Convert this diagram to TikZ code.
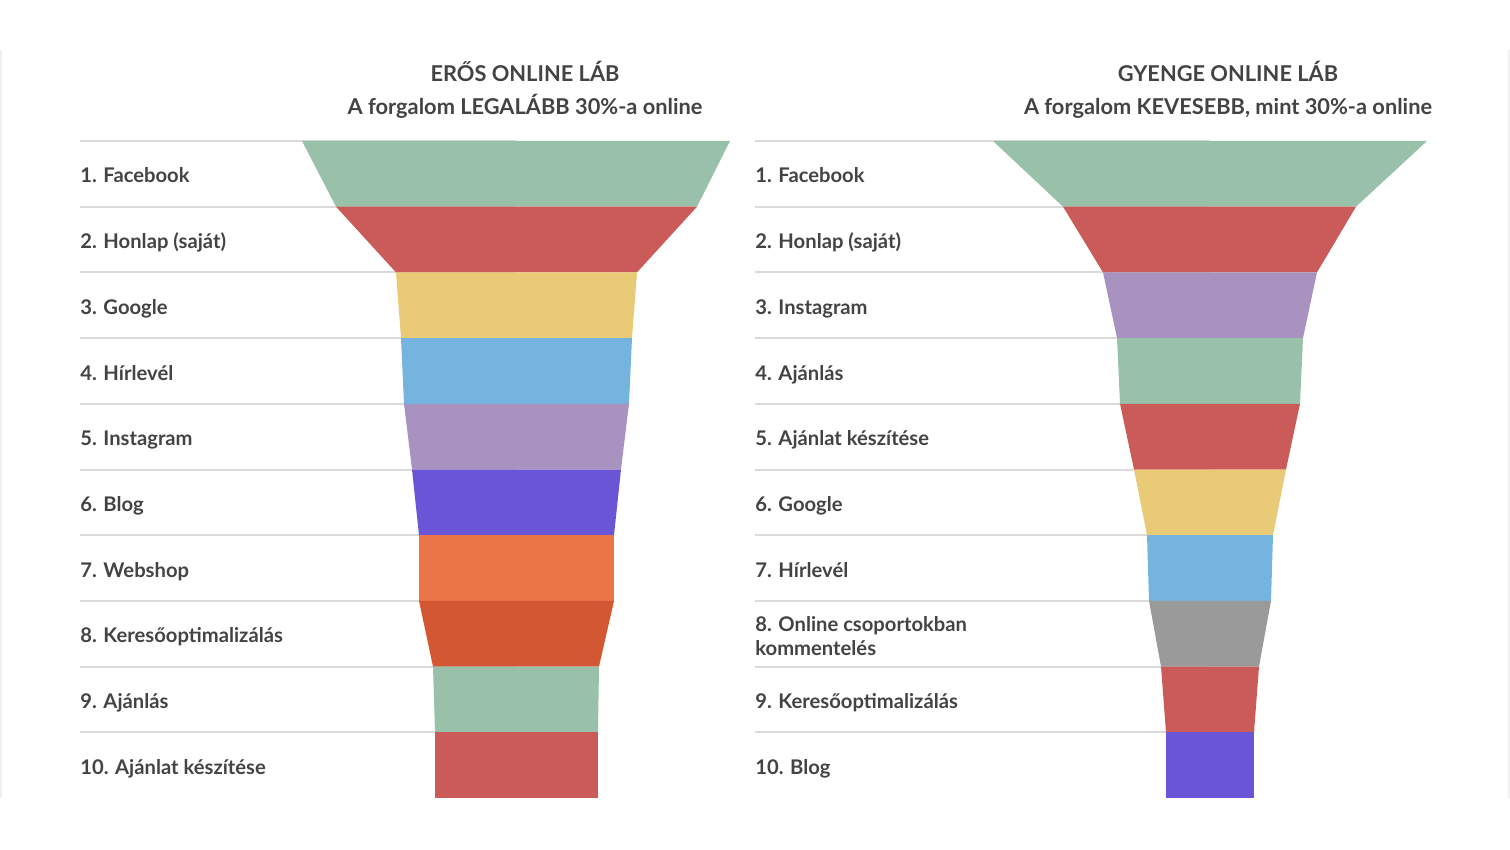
\documentclass[tikz,border=0pt]{standalone}
\usepackage{fontspec}
\setmainfont{Lato}
\definecolor{ink}{HTML}{434343}
\definecolor{rule}{HTML}{DADADA}
\definecolor{edge}{HTML}{F0F0F0}
\definecolor{sage}{HTML}{99C1A9}
\definecolor{brick}{HTML}{CB5B59}
\definecolor{sand}{HTML}{E9CB77}
\definecolor{sky}{HTML}{76B4E0}
\definecolor{lilac}{HTML}{A893C0}
\definecolor{violet}{HTML}{6A55D6}
\definecolor{orange}{HTML}{EC7547}
\definecolor{rust}{HTML}{D35732}
\definecolor{stone}{HTML}{9A9A9A}
\tikzset{
  lbl/.style={anchor=base west, inner sep=0pt, text=ink, font=\bfseries\fontsize{10.1}{12}\selectfont},
  ttl/.style={anchor=base, inner sep=0pt, text=ink, font=\bfseries\fontsize{10.9}{13}\selectfont},
  gridline/.style={draw=rule, line width=1pt},
}
\begin{document}
\begin{tikzpicture}[x=0.5pt, y=-0.5pt]
  \useasboundingbox (0,0) rectangle (1510,850);
  \draw[edge, line width=1pt] (1,50) -- (1,798) (1509,50) -- (1509,798);

  % titles
  \node[ttl] (t1) at (525,82) {ERŐS ONLINE LÁB};
  \node[ttl] (t2) at (525,115) {A forgalom LEGALÁBB 30\%-a online};
  \node[ttl] (t3) at (1228,82) {GYENGE ONLINE LÁB};
  \node[ttl] (t4) at (1228,115) {A forgalom KEVESEBB, mint 30\%-a online};

  % row lines
  \begin{scope}[gridline]
    \draw (80,141) -- (516,141) (755,141) -- (1210,141);
    \draw (80,206.7) -- (516,206.7) (755,206.7) -- (1210,206.7);
    \draw (80,272.4) -- (516,272.4) (755,272.4) -- (1210,272.4);
    \draw (80,338.1) -- (516,338.1) (755,338.1) -- (1210,338.1);
    \draw (80,403.8) -- (516,403.8) (755,403.8) -- (1210,403.8);
    \draw (80,469.5) -- (516,469.5) (755,469.5) -- (1210,469.5);
    \draw (80,535.2) -- (516,535.2) (755,535.2) -- (1210,535.2);
    \draw (80,600.9) -- (516,600.9) (755,600.9) -- (1210,600.9);
    \draw (80,666.6) -- (516,666.6) (755,666.6) -- (1210,666.6);
    \draw (80,732.3) -- (516,732.3) (755,732.3) -- (1210,732.3);
  \end{scope}

  % strong funnel
  \fill[sage] (302,141) -- (730,141) -- (697,206.7) -- (336,206.7) -- cycle;
  \fill[brick] (336,206.7) -- (697,206.7) -- (637,272.4) -- (396,272.4) -- cycle;
  \fill[sand] (396,272.4) -- (637,272.4) -- (632,338.1) -- (401,338.1) -- cycle;
  \fill[sky] (401,338.1) -- (632,338.1) -- (629,403.8) -- (404,403.8) -- cycle;
  \fill[lilac] (404,403.8) -- (629,403.8) -- (621,469.5) -- (412,469.5) -- cycle;
  \fill[violet] (412,469.5) -- (621,469.5) -- (614,535.2) -- (419,535.2) -- cycle;
  \fill[orange] (419,535.2) -- (614,535.2) -- (614,600.9) -- (419,600.9) -- cycle;
  \fill[rust] (419,600.9) -- (614,600.9) -- (599,666.6) -- (433,666.6) -- cycle;
  \fill[sage] (433,666.6) -- (599,666.6) -- (598,732.3) -- (435,732.3) -- cycle;
  \fill[brick] (435,732.3) -- (598,732.3) -- (598,798) -- (435,798) -- cycle;

  % weak funnel
  \fill[sage] (993,141) -- (1427,141) -- (1356,206.7) -- (1063,206.7) -- cycle;
  \fill[brick] (1063,206.7) -- (1356,206.7) -- (1317,272.4) -- (1103,272.4) -- cycle;
  \fill[lilac] (1103,272.4) -- (1317,272.4) -- (1303,338.1) -- (1117,338.1) -- cycle;
  \fill[sage] (1117,338.1) -- (1303,338.1) -- (1300,403.8) -- (1120,403.8) -- cycle;
  \fill[brick] (1120,403.8) -- (1300,403.8) -- (1286,469.5) -- (1134,469.5) -- cycle;
  \fill[sand] (1134,469.5) -- (1286,469.5) -- (1273,535.2) -- (1147,535.2) -- cycle;
  \fill[sky] (1147,535.2) -- (1273,535.2) -- (1271,600.9) -- (1149,600.9) -- cycle;
  \fill[stone] (1149,600.9) -- (1271,600.9) -- (1259,666.6) -- (1161,666.6) -- cycle;
  \fill[brick] (1161,666.6) -- (1259,666.6) -- (1254,732.3) -- (1166,732.3) -- cycle;
  \fill[violet] (1166,732.3) -- (1254,732.3) -- (1254,798) -- (1166,798) -- cycle;

  % labels
  \draw
    (80,182.9) node[lbl] (s1){1. Facebook}
    (80,248.6) node[lbl] (s2){2. Honlap (saját)}
    (80,314.3) node[lbl] (s3){3. Google}
    (80,380.0) node[lbl] (s4){4. Hírlevél}
    (80,445.7) node[lbl] (s5){5. Instagram}
    (80,511.4) node[lbl] (s6){6. Blog}
    (80,577.1) node[lbl] (s7){7. Webshop}
    (80,642.8) node[lbl] (s8){8. Keresőoptimalizálás}
    (80,708.5) node[lbl] (s9){9. Ajánlás}
    (80,774.2) node[lbl] (s10){10. Ajánlat készítése};
  \draw
    (755,182.9) node[lbl] (w1){1. Facebook}
    (755,248.6) node[lbl] (w2){2. Honlap (saját)}
    (755,314.3) node[lbl] (w3){3. Instagram}
    (755,380.0) node[lbl] (w4){4. Ajánlás}
    (755,445.7) node[lbl] (w5){5. Ajánlat készítése}
    (755,511.4) node[lbl] (w6){6. Google}
    (755,577.1) node[lbl] (w7){7. Hírlevél}
    (755,636.0) node[lbl, anchor=west, align=left] (w8){8. Online csoportokban\\kommentelés}
    (755,708.5) node[lbl] (w9){9. Keresőoptimalizálás}
    (755,774.2) node[lbl] (w10){10. Blog};
\end{tikzpicture}
\end{document}
